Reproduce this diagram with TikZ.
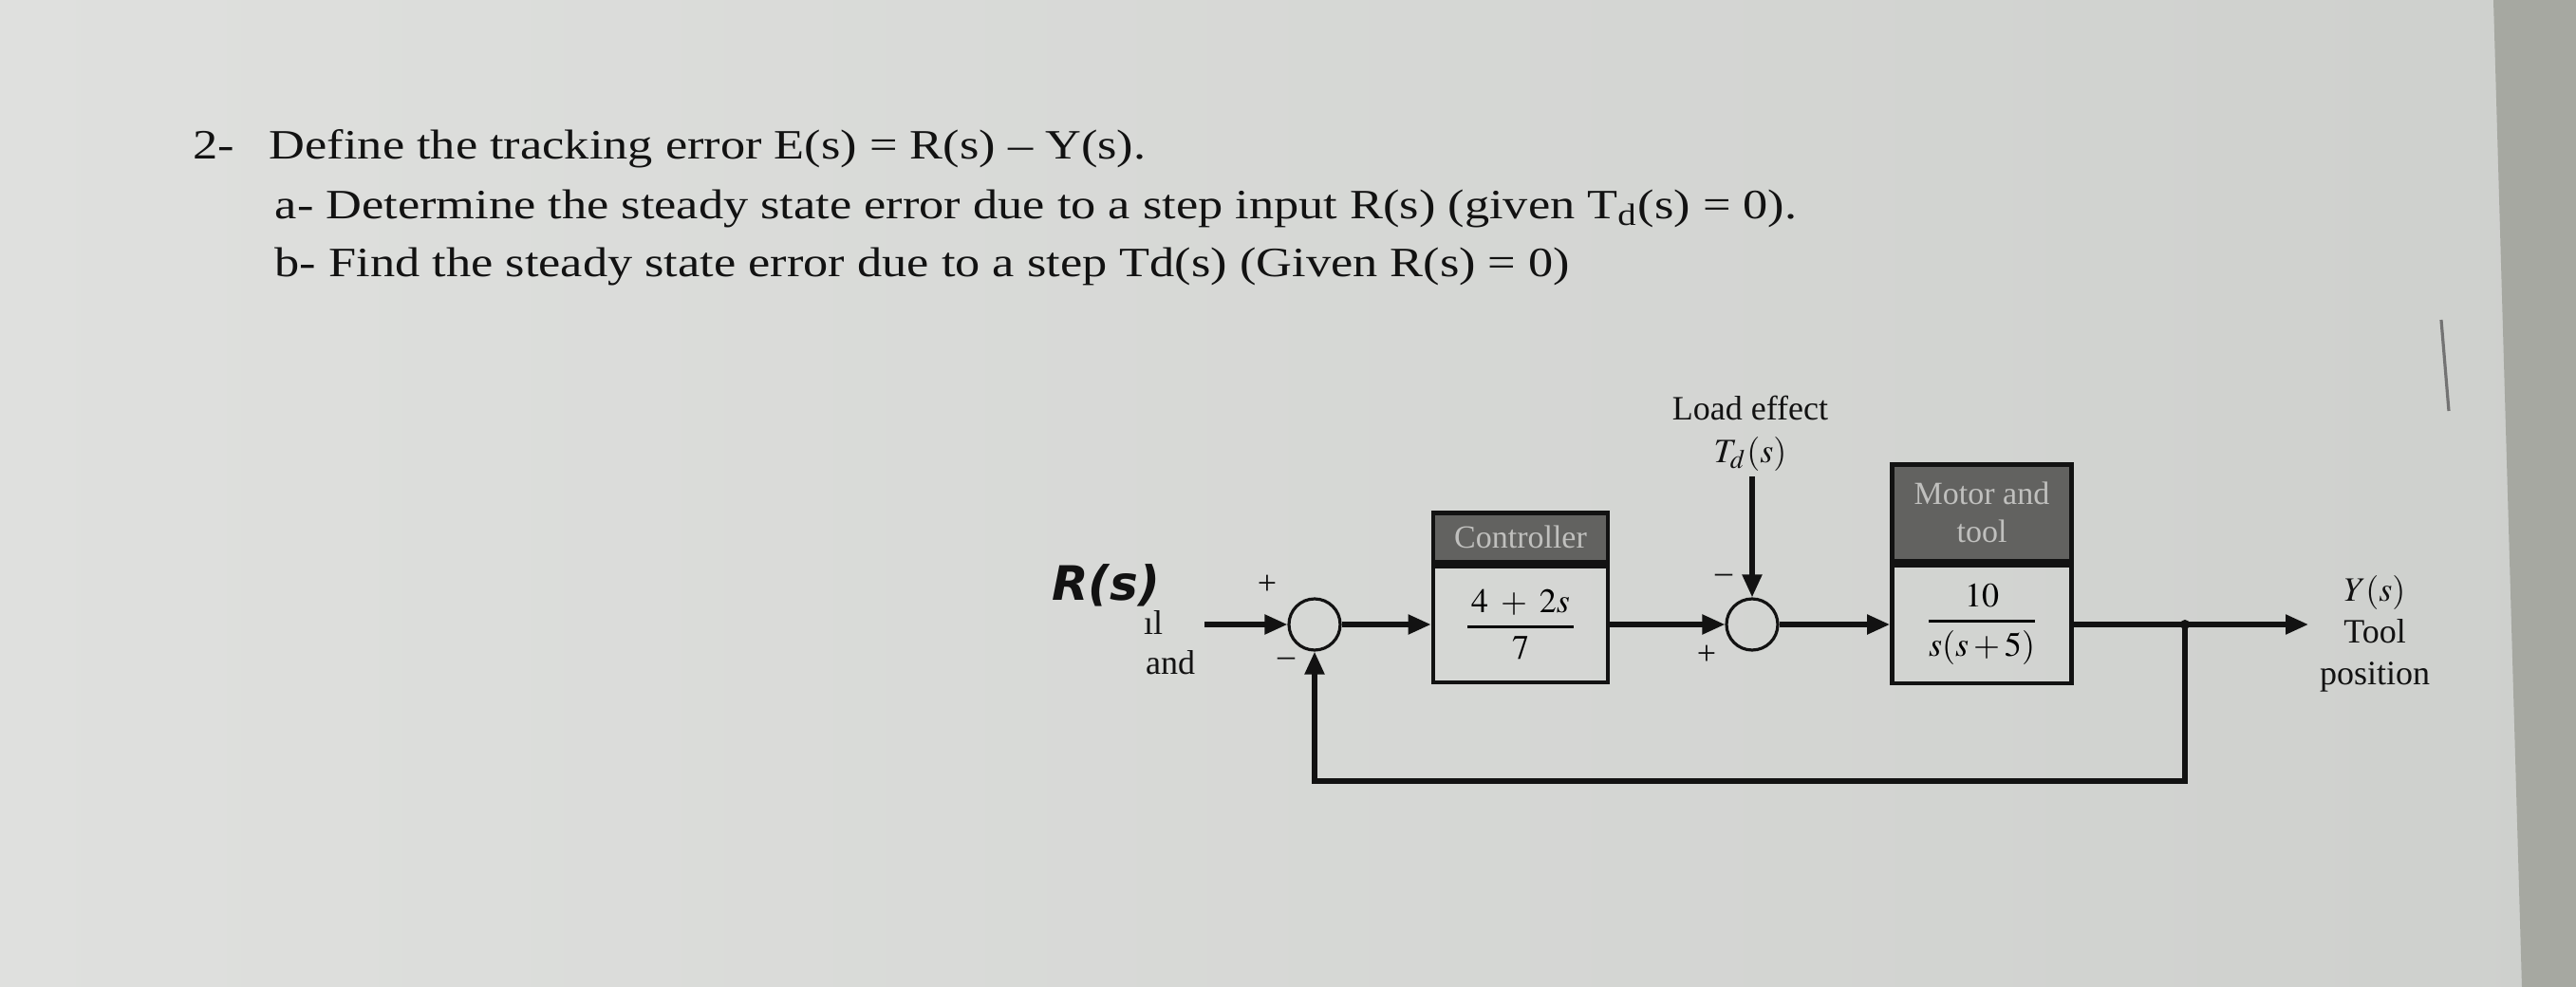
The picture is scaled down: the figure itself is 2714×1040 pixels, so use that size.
\documentclass[tikz,border=0pt]{standalone}
\usepackage{amsmath}
\usepackage{mathptmx}
\usepackage[no-math]{fontspec}
\setmainfont{Liberation Serif}
\newfontfamily\qfont[FakeStretch=1.19]{Liberation Serif}
\newfontfamily\handfont{DejaVu Sans}
\usetikzlibrary{positioning,arrows.meta,calc}
\definecolor{cPaperL}{RGB}{223,224,222}
\definecolor{cPaperR}{RGB}{206,208,205}
\definecolor{cDesk}{RGB}{166,168,161}
\definecolor{cHead}{RGB}{98,98,96}
\definecolor{cHeadTxt}{RGB}{192,192,190}
\definecolor{cInk}{RGB}{18,18,18}
\newcommand{\tf}[2]{\genfrac{}{}{0.7pt}{0}{#1}{#2}}
\tikzset{
  block/.style    ={draw=cInk, line width=1.2pt, minimum width=46pt,
                    minimum height=30.5pt, inner sep=0pt,
                    font=\fontsize{9}{10}\selectfont},
  blockhead/.style={draw=cInk, line width=1.2pt, fill=cHead, text=cHeadTxt,
                    inner sep=0pt, align=center,
                    font=\fontsize{8.5}{10}\selectfont},
  sumnode/.style  ={circle, draw=cInk, line width=0.8pt, minimum size=13.5pt,
                    inner sep=0pt},
  sig/.style      ={-{Triangle[length=6pt,width=5pt]}, line width=1.3pt,
                    draw=cInk},
  lbl/.style      ={font=\fontsize{9}{11}\selectfont, text=cInk, inner sep=0pt,
                    align=center},
  sgn/.style      ={font=\fontsize{9}{9}\selectfont, text=cInk, inner sep=0pt},
  hand/.style     ={font=\handfont\bfseries\itshape\fontsize{12.5}{12.5}\selectfont,
                    text=cInk, inner sep=0pt},
  qline/.style    ={font=\qfont\fontsize{11}{13}\selectfont, text=cInk,
                    anchor=base west, inner sep=0pt},
}

\begin{document}
\begin{tikzpicture}[x=0.25pt, y=-0.25pt, node distance=4pt]

  % ---- paper and desk ----
  \shade[left color=cPaperL, right color=cPaperR] (0,0) rectangle (2714,1040);
  \fill[cDesk] (2627,0) -- (2714,0) -- (2714,1040) -- (2657,1040) -- cycle;
  \draw[black!55, line width=0.8pt] (2572,337) -- (2580,433);
  \useasboundingbox (0,0) rectangle (2714,1040);

  % ---- question ----
  \node[qline] (qnum) at (203,167) {2-};
  \node[qline] (qdef) at (283,167) {Define the tracking error E(s) = R(s) – Y(s).};
  \node[qline] (qa) at (289,230)
    {a- Determine the steady state error due to a step input R(s) (given T\textsubscript{d}(s) = 0).};
  \node[qline] (qb) at (289,291)
    {b- Find the steady state error due to a step Td(s) (Given R(s) = 0)};

  % ---- summing junctions ----
  \node[sumnode] (sum1) at (1385,658) {};
  \node[sumnode] (sum2) at (1846,658) {};

  % ---- blocks ----
  \node[block] (ctrl) at (1602,658) {$\tf{\,4\;+\;2s\,}{7}$};
  \node[blockhead, minimum width=46pt, minimum height=13pt, anchor=south]
    (ctrlhd) at (ctrl.north) {Controller};
  \node[block, minimum width=47.25pt, minimum height=31pt] (plant) at (2088,658)
    {$\tf{10}{s(s+5)}$};
  \node[blockhead, minimum width=47.25pt, minimum height=25.5pt, anchor=south]
    (planthd) at (plant.north) {Motor and\\tool};

  % ---- free ends ----
  \coordinate (rin)  at (1269,658);
  \coordinate (tdin) at (1846,502);
  \coordinate (br)   at (2302,658);
  \coordinate (yout) at (2432,658);
  \coordinate (fbk)  at (2302,823);

  % ---- labels ----
  \node[lbl] (tdlbl) at (1844,478) {$T_d(s)$};
  \node[lbl, above=4pt of tdlbl] (load) {Load effect};
  \node[lbl] (ylbl) at (2502,668) {$Y(s)$\\Tool\\position};
  \node[hand] (rlbl) at (1165,617) {R(s)};
  \node[lbl] (frag) at (1215,656) {\i l};
  \node[lbl] (andlbl) at (1233,698) {and};

  % ---- signs ----
  \node[sgn] (p1) at ($(sum1)+(-50,-42)$) {+};
  \node[sgn] (m1) at ($(sum1)+(-30,40)$) {–};
  \node[sgn] (m2) at ($(sum2)+(-30,-48)$) {–};
  \node[sgn] (p2) at ($(sum2)+(-48,32)$) {+};

  % ---- connectors ----
  \draw[sig] (rin) -- (sum1);
  \draw[sig] (sum1) -- (ctrl);
  \draw[sig] (ctrl) -- (sum2);
  \draw[sig] (tdin) -- (sum2);
  \draw[sig] (sum2) -- (plant);
  \draw[sig] (plant) -- (yout);
  \draw[sig] (br) -- (fbk) -| (sum1);
  \fill[cInk] (br) circle (5);

\end{tikzpicture}
\end{document}
